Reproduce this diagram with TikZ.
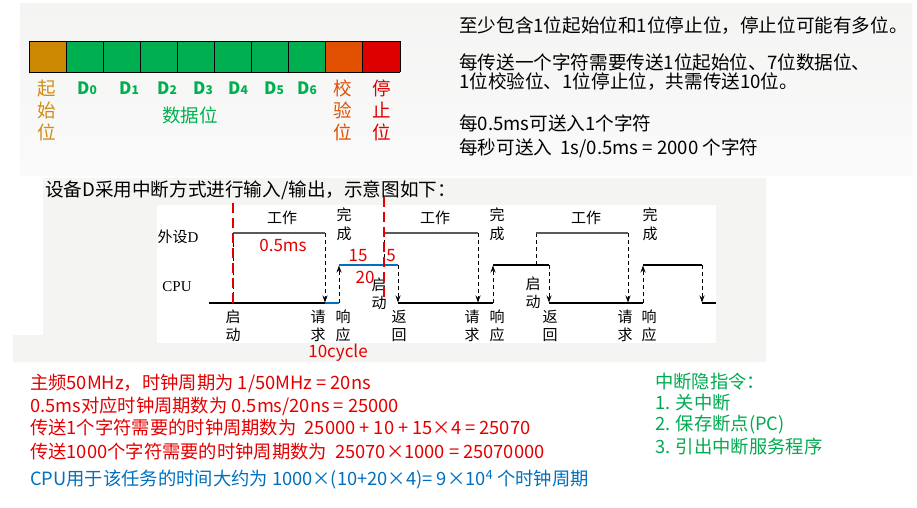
\documentclass[tikz,border=0pt]{standalone}
\usepackage{fontspec}
\setmainfont{Noto Sans CJK SC}
\newfontfamily\serifft{Liberation Serif}
\usetikzlibrary{arrows.meta}
\definecolor{panel}{RGB}{244,244,243}
\definecolor{startc}{RGB}{204,136,0}
\definecolor{startt}{RGB}{208,140,20}
\definecolor{datac}{RGB}{0,176,80}
\definecolor{parc}{RGB}{224,80,0}
\definecolor{stopc}{RGB}{222,0,0}
\definecolor{redt}{RGB}{228,0,0}
\definecolor{bluet}{RGB}{0,112,192}
\definecolor{greent}{RGB}{0,170,80}
\definecolor{perline}{RGB}{90,90,90}
\begin{document}
\begin{tikzpicture}[x=1pt,y=-1pt,
  txt/.style={anchor=west,inner sep=0pt,font=\fontsize{18.3}{21}\selectfont},
  rtxt/.style={anchor=west,inner sep=0pt,font=\fontsize{18.6}{21}\selectfont},
  lab/.style={inner sep=0pt,font=\fontsize{15}{18}\selectfont,align=center},
  redlab/.style={inner sep=0pt,text=redt,font=\fontsize{17}{20}\selectfont},
  bitlab/.style={inner sep=0pt,font=\fontsize{18.5}{22}\selectfont,align=center},
  dlab/.style={inner sep=0pt,text=datac,font=\fontsize{17}{20}\selectfont\bfseries},
  cpu/.style={line width=1.1pt,black},
  per/.style={line width=1.1pt,perline},
  dasharr/.style={line width=0.9pt,dash pattern=on 4pt off 3pt,-{Stealth[length=7pt,width=5pt]}},
  dashln/.style={line width=0.9pt,dash pattern=on 4pt off 3pt},
  blueln/.style={line width=2.2pt,bluet},
  reddash/.style={line width=2.8pt,redt,dash pattern=on 10pt off 5pt}]
\useasboundingbox (0,0) rectangle (917,507);
\fill[white] (0,0) rectangle (917,507);
% panels
\shade[top color=panel,bottom color={rgb,255:red,250;green,250;blue,250}] (20,3) rectangle (912,175);
\fill[panel] (43,178) -- (766,178) -- (766,362) -- (13,362) -- (13,335) -- (43,335) -- cycle;
\fill[white] (157,205) rectangle (716,343);
% bit frame
\foreach \i/\c in {0/startc,1/datac,2/datac,3/datac,4/datac,5/datac,6/datac,7/datac,8/parc,9/stopc}{
  \fill[\c] ({29+37.1*\i},41) rectangle ({29+37.1*(\i+1)},72);
}
\draw[line width=1pt] (29,41) -- (400,41);
\draw[line width=1pt] (29,72) -- (400,72);
\foreach \i in {0,...,10}{ \draw[line width=1pt] ({29+37.1*\i},41) -- ({29+37.1*\i},72); }
% bit labels
\node[bitlab,text=startt] (qsw) at (47,110) {起\\始\\位};
\node[bitlab,text=parc] (jyw) at (343,110) {校\\验\\位};
\node[bitlab,text=stopc] (tzw) at (382,110) {停\\止\\位};
\node[bitlab,text=datac] (sjw) at (190,115) {数据位};
\foreach \x/\d [count=\k] in {87/0,129/1,167/2,203/3,238/4,274/5,307/6}{
  \node[dlab] (d\k) at (\x,88) {D{\fontsize{12}{12}\selectfont\d}};
}
% top right text
\node[rtxt] (t1) at (459,26) {至少包含1位起始位和1位停止位，停止位可能有多位。};
\node[rtxt] (t2) at (459,62) {每传送一个字符需要传送1位起始位、7位数据位、};
\node[rtxt] (t3) at (459,82) {1位校验位、1位停止位，共需传送10位。};
\node[rtxt] (t4) at (459,123) {每0.5ms可送入1个字符};
\node[rtxt] (t5) at (459,148) {每秒可送入~~1s/0.5ms = 2000 个字符};
% title
\node[txt,font=\fontsize{18.6}{21}\selectfont] (title) at (45,190) {设备D采用中断方式进行输入/输出，示意图如下：};
% timing diagram labels
\node[lab] (wsd) at (178,237) {外设{\serifft D}};
\node[lab,font=\fontsize{15}{18}\selectfont\serifft] (cpul) at (177,287) {CPU};
\foreach \x [count=\k] in {282,435,586}{ \node[lab] (gz\k) at (\x,218) {工作}; }
\foreach \x [count=\k] in {344,497,650}{ \node[lab,font=\fontsize{15}{19}\selectfont] (wc\k) at (\x,224.5) {完\\成}; }
\node[lab] (qd1) at (233,326) {启\\动};
\node[lab] (qd2) at (379,294) {启\\动};
\node[lab] (qd3) at (533,292.5) {启\\动};
\foreach \x [count=\k] in {318,472,625}{ \node[lab] (qq\k) at (\x,326) {请\\求}; }
\foreach \x [count=\k] in {343,497,649}{ \node[lab] (xy\k) at (\x,326) {响\\应}; }
\foreach \x [count=\k] in {399,550}{ \node[lab] (fh\k) at (\x,326) {返\\回}; }
% CPU waveform
\draw[cpu] (209,303) -- (325,303);
\draw[blueln] (325,303) -- (339,303);
\draw[dasharr] (339,303) -- (339,265.5);
\draw[blueln] (339,265) -- (398,265);
\draw[dasharr] (398,265) -- (398,302.5);
\draw[cpu] (398,303) -- (493,303);
\draw[dasharr] (493,303) -- (493,265.5);
\draw[cpu] (493,265) -- (549,265);
\draw[dasharr] (549,265) -- (549,302.5);
\draw[cpu] (549,303) -- (643,303);
\draw[dasharr] (643,303) -- (643,265.5);
\draw[cpu] (643,265) -- (702,265);
\draw[dasharr] (702,265) -- (702,302.5);
\draw[cpu] (702,303) -- (716,303);
% peripheral waveform
\draw[dashln] (233,303) -- (233,233);
\draw[per] (233,233) -- (325,233);
\draw[dasharr] (325,233) -- (325,302.5);
\draw[dashln] (384,265) -- (384,233);
\draw[per] (384,233) -- (478,233);
\draw[dasharr] (478,233) -- (478,302.5);
\draw[dashln] (536,265) -- (536,233);
\draw[per] (536,233) -- (628,233);
\draw[dasharr] (628,233) -- (628,302.5);
% red dashed markers
\draw[reddash] (233,203) -- (233,303);
\draw[reddash] (384,197) -- (384,300);
% red numbers
\node[redlab] (r05) at (283,245) {0.5ms};
\node[redlab] (r15) at (358,256) {15};
\node[redlab] (r5) at (391,256) {5};
\node[redlab] (r20) at (365,277) {20};
\node[redlab] (r10) at (338,353) {10cycle};
% bottom red text
\node[txt,text=redt] (b1) at (30,383) {主频50MHz，时钟周期为 1/50MHz = 20ns};
\node[txt,text=redt] (b2) at (30,406) {0.5ms对应时钟周期数为 0.5ms/20ns = 25000};
\node[txt,text=redt] (b3) at (30,428) {传送1个字符需要的时钟周期数为~~25000 + 10 + 15×4 = 25070};
\node[txt,text=redt] (b4) at (30,452) {传送1000个字符需要的时钟周期数为~~25070×1000 = 25070000};
\node[txt,text=bluet] (b5) at (30,480) {CPU用于该任务的时间大约为 1000×(10+20×4)= 9×10\textsuperscript{4} 个时钟周期};
% green text
\node[txt,text=greent] (g1) at (655,382) {中断隐指令：};
\node[txt,text=greent] (g2) at (655,403) {1. 关中断};
\node[txt,text=greent] (g3) at (655,425) {2. 保存断点(PC)};
\node[txt,text=greent] (g4) at (655,447) {3. 引出中断服务程序};
\end{tikzpicture}
\end{document}
